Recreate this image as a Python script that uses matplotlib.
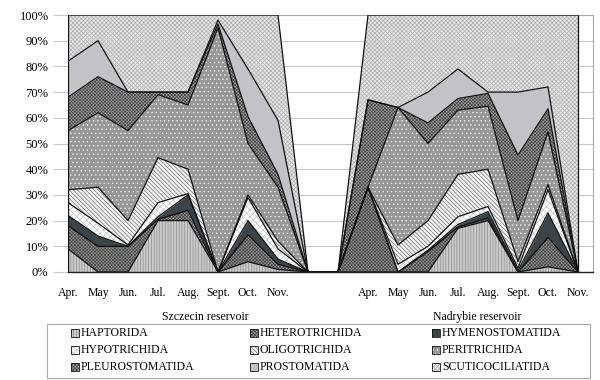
import matplotlib
matplotlib.use("Agg")
import matplotlib.pyplot as plt
import numpy as np
from matplotlib.patches import Rectangle

plt.rcParams["font.family"] = ["Liberation Serif", "DejaVu Serif"]
plt.rcParams["hatch.linewidth"] = 0.5

# months for each reservoir (Szczecin first, then Nadrybie)
months = ["Apr.", "May", "Jun.", "Jul.", "Aug.", "Sept.", "Oct.", "Nov."]
reservoirs = ["Szczecin reservoir", "Nadrybie reservoir"]
orders = ["HAPTORIDA", "HETEROTRICHIDA", "HYMENOSTOMATIDA", "HYPOTRICHIDA",
          "OLIGOTRICHIDA", "PERITRICHIDA", "PLEUROSTOMATIDA", "PROSTOMATIDA",
          "SCUTICOCILIATIDA"]

# share in % : 8 months Szczecin + 8 months Nadrybie
haptorida = [9, 0, 0, 20, 20, 0, 4, 1,
             0, 0, 0, 17, 20, 0, 2, 0]
heterotrichida = [9, 10, 10, 0.5, 4, 0, 10.5, 2,
                  33, 0, 8, 0.5, 1, 0, 11.5, 0]
hymenostomatida = [4, 4, 0, 1, 6, 0, 5.5, 2,
                   0, 0, 0.5, 1, 2.5, 0.5, 9.5, 0]
hypotrichida = [5, 5, 0.5, 5.5, 0.5, 0, 9, 4,
                0, 3, 1.5, 3, 2, 1, 9, 0]
oligotrichida = [5, 14, 9.5, 17.5, 9.5, 0, 1, 3,
                 0, 7.5, 10, 16.5, 14.5, 2.5, 2, 0]
peritrichida = [23, 29, 35, 24.5, 25, 95, 20, 21,
                0, 53.5, 30, 25, 24.5, 16, 20.5, 0]
pleurostomatida = [13, 14, 15, 1, 5, 1.5, 10.5, 5,
                   34, 0, 8, 4.5, 5, 25.5, 9, 0]
prostomatida = [14, 14, 0, 0, 0, 1.5, 18.5, 21,
                0, 0, 12, 11.5, 0.5, 24.5, 8.5, 0]
scuticociliatida = [18, 10, 30, 30, 30, 2, 21, 41,
                    33, 36, 30, 21, 30, 30, 28, 100]

series = [haptorida, heterotrichida, hymenostomatida, hypotrichida,
          oligotrichida, peritrichida, pleurostomatida, prostomatida,
          scuticociliatida]

# facecolor, hatch colour, hatch
styles = [
    ("#cacaca", "#8e8e8e", "||||||"),
    ("#959595", "#454545", "xxxxxxxxxx"),
    ("#3b4448", "#3b4448", None),
    ("#ffffff", "#c4c4c4", "xxxxx"),
    ("#f4f4f4", "#707070", "\\\\\\\\\\\\\\\\"),
    ("#979797", "#eeeeee", "...."),
    ("#a2a2a2", "#444444", "xxxxxxxxxx"),
    ("#c3c3c7", "#c3c3c7", None),
    ("#e8e8e8", "#b0b0b0", "xxxxxxxx"),
]


def with_gap(vals):
    # two empty categories between the reservoirs
    return np.array(vals[:8] + [0, 0] + vals[8:], dtype=float)


x = np.arange(18)

fig = plt.figure(figsize=(6, 3.8), dpi=100)
ax = fig.add_axes([68 / 600, 1 - 272 / 380, 525 / 600, 257 / 380])

ax.set_axisbelow(True)
ax.yaxis.grid(True, color="#c8c8c8", linewidth=0.8)

lower = np.zeros(18)
for vals, (fc, hc, hatch) in zip(series, styles):
    upper = lower + with_gap(vals)
    ax.fill_between(x, lower, upper, facecolor=fc, edgecolor=hc,
                    hatch=hatch, linewidth=0, zorder=2)
    lower = upper

lower = np.zeros(18)
for vals in series:
    upper = lower + with_gap(vals)
    ax.plot(x, upper, color="#111111", linewidth=0.9, zorder=3)
    lower = upper
ax.vlines([0, 17], 0, 100, color="#111111", linewidth=0.9, zorder=3)

ax.set_xlim(0, 17.5)
ax.set_ylim(0, 100)
ax.set_yticks(np.arange(0, 101, 10))
ax.set_yticklabels([f"{v}%" for v in range(0, 101, 10)], fontsize=9)
ax.set_xticks(list(range(8)) + list(range(10, 18)))
ax.set_xticklabels(months + months, fontsize=8.5)
ax.tick_params(axis="x", length=0, pad=11)
ax.tick_params(axis="y", length=11, color="#c8c8c8", pad=3)

for side in ["top", "right", "left"]:
    ax.spines[side].set_color("#a8a8a8")
    ax.spines[side].set_linewidth(0.8)
ax.spines["bottom"].set_color("#222222")
ax.spines["bottom"].set_linewidth(1.0)
ax.spines["bottom"].set_zorder(4)

fig.text(205 / 600, 1 - 317 / 380, reservoirs[0], ha="center", va="center",
         fontsize=8.5)
fig.text(477 / 600, 1 - 317 / 380, reservoirs[1], ha="center", va="center",
         fontsize=8.5)

# legend box, filled row by row
fig.patches.append(Rectangle((47 / 600, 1 - 378 / 380), 543 / 600, 54 / 380,
                             transform=fig.transFigure, facecolor="white",
                             edgecolor="#a8a8a8", linewidth=0.8))
col_x = [71, 250, 432]
row_y = [333, 350, 367]
for i, (name, (fc, hc, hatch)) in enumerate(zip(orders, styles)):
    px = col_x[i % 3]
    py = row_y[i // 3]
    fig.patches.append(Rectangle((px / 600, 1 - (py + 4) / 380), 8 / 600, 8 / 380,
                                 transform=fig.transFigure, facecolor=fc,
                                 edgecolor=hc, hatch=hatch, linewidth=0))
    fig.patches.append(Rectangle((px / 600, 1 - (py + 4) / 380), 8 / 600, 8 / 380,
                                 transform=fig.transFigure, fill=False,
                                 edgecolor="#111111", linewidth=0.6))
    fig.text((px + 10) / 600, 1 - py / 380, name, ha="left", va="center",
             fontsize=8.5)

fig.savefig("out.png", dpi=100)
